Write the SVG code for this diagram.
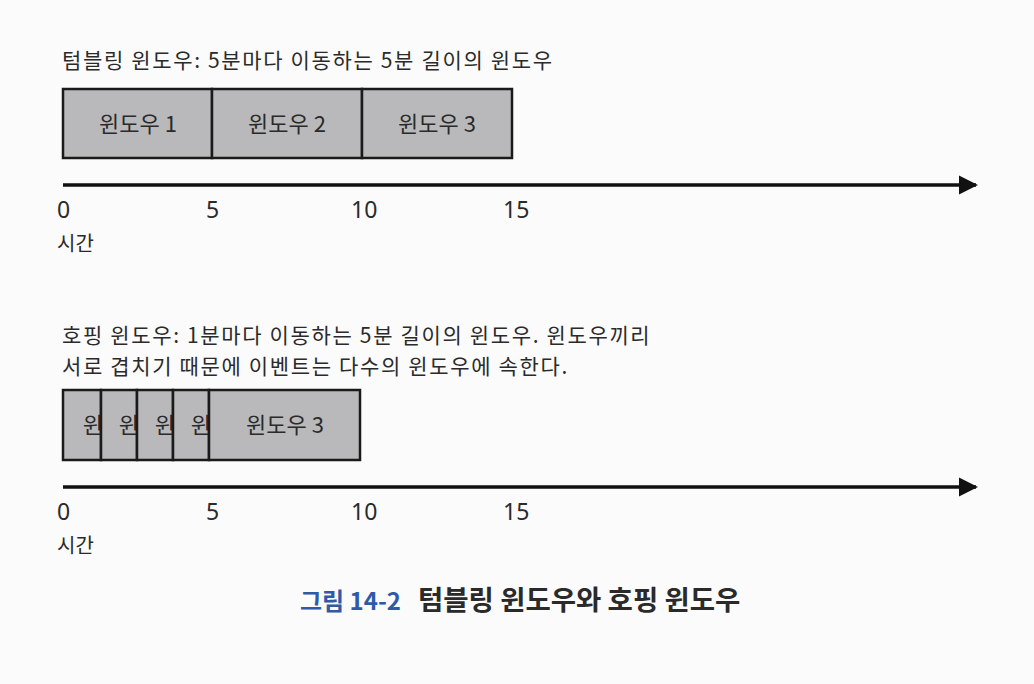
<svg xmlns="http://www.w3.org/2000/svg" width="1034" height="684" viewBox="0 0 1034 684">
<defs>
<style>
text{font-family:"Noto Sans CJK KR","Noto Sans",sans-serif;fill:#2a2a2a}
.t{font-size:21px;letter-spacing:1.65px}
.n{font-size:23px;font-family:"Noto Sans","Noto Sans CJK KR",sans-serif}
.l{font-size:22px;text-anchor:middle}
.w{font-size:22px;text-anchor:end}
.s{font-size:20px}
.box{fill:#b9b9bb;stroke:#1a1a1a;stroke-width:2.5}
.axis{stroke:#111;stroke-width:3.5;fill:none}
.cap{font-weight:bold}
</style>
<marker id="ah" viewBox="0 0 10 10" refX="9" refY="5" markerWidth="5.5" markerHeight="5.5" markerUnits="strokeWidth" orient="auto">
<path d="M0,0 L10,5 L0,10 Z" fill="#111"/>
</marker>
</defs>
<rect width="1034" height="684" fill="#fbfbfb"/>
<g id="title1"><text class="t" x="62" y="68">텀블링 윈도우: 5분마다 이동하는 5분 길이의 윈도우</text></g>
<g id="tw1"><rect class="box" x="63" y="89" width="149" height="69"/><text class="l" x="138" y="132">윈도우 1</text></g>
<g id="tw2"><rect class="box" x="212" y="89" width="150" height="69"/><text class="l" x="287" y="132">윈도우 2</text></g>
<g id="tw3"><rect class="box" x="362" y="89" width="150" height="69"/><text class="l" x="437" y="132">윈도우 3</text></g>
<g id="title2"><text class="t" x="62" y="343">호핑 윈도우: 1분마다 이동하는 5분 길이의 윈도우. 윈도우끼리</text><text class="t" x="62" y="374">서로 겹치기 때문에 이벤트는 다수의 윈도우에 속한다.</text></g>
<g id="hw1"><rect class="box" x="63" y="390" width="38" height="70"/><text class="w" x="103" y="433">윈</text></g>
<g id="hw2"><rect class="box" x="101" y="390" width="36" height="70"/><text class="w" x="139" y="433">윈</text></g>
<g id="hw3"><rect class="box" x="137" y="390" width="36" height="70"/><text class="w" x="175" y="433">윈</text></g>
<g id="hw4"><rect class="box" x="173" y="390" width="36" height="70"/><text class="w" x="211" y="433">윈</text></g>
<g id="hw5"><rect class="box" x="209" y="390" width="151" height="70"/><text class="l" x="285" y="433">윈도우 3</text></g>
<g id="connectors">
<line class="axis" x1="63" y1="185" x2="976" y2="185" marker-end="url(#ah)"/>
<line class="axis" x1="63" y1="487" x2="976" y2="487" marker-end="url(#ah)"/>
</g>
<g id="axis1labels">
<text class="n" x="57" y="218">0</text><text class="n" x="206" y="218">5</text><text class="n" x="351" y="218">10</text><text class="n" x="503" y="218">15</text>
<text class="s" x="57" y="251">시간</text>
</g>
<g id="axis2labels">
<text class="n" x="57" y="520">0</text><text class="n" x="206" y="520">5</text><text class="n" x="351" y="520">10</text><text class="n" x="503" y="520">15</text>
<text class="s" x="57" y="553">시간</text>
</g>
<g id="caption"><text class="cap" x="300" y="610"><tspan style="fill:#2f5aa8;font-size:24px">그림 14-2</tspan><tspan x="418" style="font-size:27.5px">텀블링 윈도우와 호핑 윈도우</tspan></text></g>
</svg>
